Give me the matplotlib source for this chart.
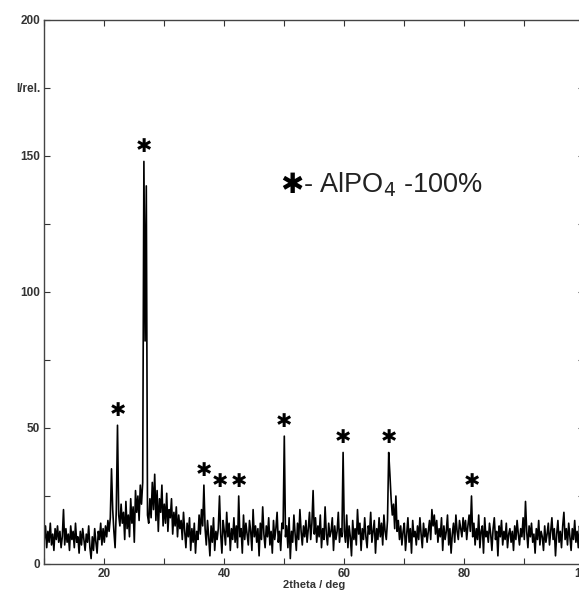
import numpy as np
import matplotlib
matplotlib.use("Agg")
import matplotlib.pyplot as plt

# 2theta grid, 0.2 deg steps from 10 to 99.8
two_theta_start = 10.0
two_theta_step = 0.2

# intensity, 10 values per 2 deg
intensity = [
    9, 14, 6, 12, 8, 15, 7, 11, 5, 13,
    9, 14, 8, 12, 6, 10, 20, 7, 13, 8,
    11, 5, 14, 9, 12, 6, 15, 8, 10, 4,
    12, 7, 13, 9, 5, 11, 8, 14, 6, 2,
    10, 5, 13, 8, 4, 12, 9, 15, 7, 13,
    8, 14, 10, 16, 12, 17, 35, 20, 12, 6,
    20, 51, 18, 14, 22, 15, 19, 9, 23, 13,
    18, 10, 24, 15, 21, 8, 27, 19, 25, 16,
    29, 22, 30, 148, 82, 139, 18, 15, 24, 17,
    30, 20, 33, 16, 27, 12, 24, 19, 29, 14,
    22, 15, 26, 12, 20, 17, 24, 11, 19, 14,
    21, 10, 18, 13, 16, 9, 19, 12, 6, 15,
    10, 17, 5, 13, 8, 15, 4, 12, 9, 18,
    11, 20, 14, 29, 13, 7, 16, 10, 3, 14,
    8, 17, 5, 12, 9, 13, 25, 11, 4, 16,
    12, 7, 19, 10, 15, 5, 13, 9, 17, 8,
    14, 6, 25, 10, 13, 4, 18, 9, 15, 11,
    7, 16, 12, 5, 20, 10, 14, 8, 13, 3,
    15, 9, 21, 11, 6, 14, 10, 17, 7, 12,
    4, 16, 9, 13, 19, 8, 12, 5, 15, 13,
    47, 10, 14, 6, 17, 2, 12, 8, 18, 11,
    5, 15, 9, 20, 12, 7, 14, 10, 16, 8,
    13, 19, 9, 15, 27, 11, 17, 8, 14, 10,
    18, 6, 13, 9, 21, 11, 7, 15, 10, 12,
    17, 5, 14, 9, 12, 19, 8, 13, 10, 41,
    12, 8, 18, 6, 14, 10, 3, 16, 9, 13,
    7, 20, 11, 15, 5, 13, 9, 17, 10, 6,
    14, 11, 19, 8, 12, 16, 4, 13, 9, 17,
    10, 15, 7, 18, 12, 9, 16, 41, 33, 24,
    18, 22, 13, 25, 12, 16, 9, 14, 7, 12,
    15, 5, 11, 17, 8, 13, 4, 16, 10, 12,
    7, 14, 9, 17, 11, 6, 15, 10, 13, 8,
    12, 16, 9, 20, 14, 18, 11, 16, 8, 13,
    10, 17, 5, 14, 9, 12, 18, 7, 13, 4,
    11, 15, 8, 18, 12, 9, 16, 13, 10, 17,
    12, 16, 9, 14, 18, 12, 25, 10, 15, 7,
    13, 9, 18, 6, 12, 14, 4, 17, 10, 12,
    8, 15, 11, 5, 13, 17, 9, 12, 3, 14,
    10, 16, 7, 12, 9, 15, 6, 11, 13, 8,
    12, 5, 14, 9, 16, 11, 7, 13, 10, 17,
    9, 23, 12, 6, 14, 10, 15, 8, 11, 4,
    13, 9, 16, 7, 12, 10, 5, 14, 8, 11,
    15, 7, 12, 17, 9, 13, 3, 11, 16, 8,
    12, 6, 14, 19, 9, 13, 7, 15, 10, 5,
    13, 9, 16, 8, 12, 6, 14, 10, 11, 13,
]

# peaks marked with an asterisk (AlPO4)
marked_peaks = [22.2, 26.6, 36.6, 39.2, 42.4, 50.0, 59.8, 67.4, 81.2]

x_ticks = [10, 20, 30, 40, 50, 60, 70, 80, 90, 100]
x_tick_labels = ["", "20", "", "40", "", "60", "", "80", "", "100"]
y_ticks = [0, 25, 50, 75, 100, 125, 150, 175, 200]
y_tick_labels = ["0", "", "50", "", "100", "", "150", "I/rel.", "200"]

two_theta = two_theta_start + two_theta_step * np.arange(len(intensity))
intensity = np.array(intensity, dtype=float)

plt.rcParams['font.family'] = ['Liberation Sans', 'DejaVu Sans']

fig = plt.figure(figsize=(5.79, 5.97), dpi=100)
ax = fig.add_axes([44.3 / 579, 33 / 597, 540 / 579, 544 / 597])

ax.plot(two_theta, intensity, color="black", linewidth=1.2)

for peak in marked_peaks:
    i = int(round((peak - two_theta_start) / two_theta_step))
    ax.text(two_theta[i], intensity[i] + 5.5, "\u2731", ha="center", va="center",
            fontsize=14, family="DejaVu Sans", color="black")

# legend-like note
ax.text(0.458, 0.697, "\u2731", transform=ax.transAxes, ha="center", va="center",
        fontsize=20, family="DejaVu Sans", color="black")
ax.text(0.479, 0.697, r"- AlPO$_4$ -100%", transform=ax.transAxes, ha="left", va="center",
        fontsize=19.5, color="#222222")

ax.set_xlim(10, 100)
ax.set_ylim(0, 200)
ax.set_xticks(x_ticks)
ax.set_xticklabels(x_tick_labels)
ax.set_yticks(y_ticks)
ax.set_yticklabels(y_tick_labels)
ax.tick_params(direction="in", length=4, width=0.8, top=True, right=True,
               labelsize=8.5, colors="#333333", pad=3)
for lab in ax.get_xticklabels() + ax.get_yticklabels():
    lab.set_fontweight("bold")
for s in ax.spines.values():
    s.set_color("#444444")
    s.set_linewidth(1.0)

ax.set_xlabel("2theta / deg", fontsize=8, fontweight="bold", color="#333333", labelpad=0)

fig.savefig("out.png", dpi=100)
